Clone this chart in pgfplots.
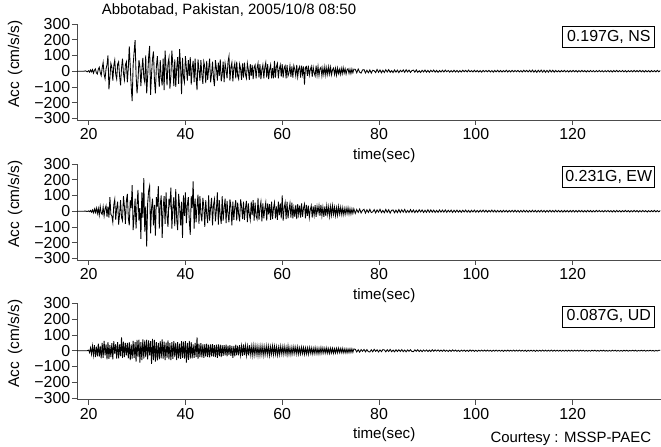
\documentclass[border=0pt]{standalone}
\usepackage{fontspec}
\setmainfont{Liberation Sans}
\usepackage{pgfplots}
\pgfplotsset{compat=1.18}
\usepackage{pgfplotstable}

% accelerations, cm/s/s
\pgfplotstableread{
t ns ew ud
17.6 0 0 0
19.0 0 0 0
19.4 2 1 0
19.7 -4 -2 0
20.0 3 2 4
20.2 -6 -3 -12
20.4 8 5 18
20.6 -4 -6 -22
20.8 10 8 30
21.0 -12 -10 -28
21.2 6 14 35
21.4 15 -8 -40
21.6 -10 20 25
21.8 -18 -15 -35
22.0 12 18 45
22.2 25 -25 -38
22.4 -8 30 30
22.6 -28 -12 -48
22.8 20 -20 50
23.0 55 28 -45
23.2 -20 -30 62
23.4 -48 15 -30
23.6 15 35 40
23.8 40 -35 -55
24.0 100 30 55
24.2 -115 -40 -52
24.4 -40 90 35
24.6 50 -20 -40
24.8 25 -30 48
25.0 -60 -70 -55
25.2 35 40 60
25.4 70 75 -20
25.6 -20 -55 42
25.8 -50 20 -50
26.0 45 60 55
26.2 60 -85 -48
26.4 -30 -20 40
26.6 -90 70 -35
26.8 20 -40 85
27.0 80 -60 -45
27.2 -15 95 58
27.4 -55 30 -40
27.6 40 -80 50
27.8 60 65 -30
28.0 -70 110 50
28.2 20 -40 -48
28.4 158 -90 55
28.6 30 70 -60
28.8 -100 20 40
29.0 -190 165 -50
29.2 40 -120 62
29.4 120 -30 -45
29.6 198 80 55
29.8 -20 -110 -70
30.0 -140 40 68
30.2 -60 135 -40
30.4 70 -60 70
30.6 30 20 -75
30.8 -95 -175 55
31.0 10 120 -60
31.2 85 -40 72
31.4 -40 210 -50
31.6 -70 -130 65
31.8 100 30 -40
32.0 -141 -225 70
32.2 -30 50 -55
32.4 90 130 65
32.6 160 160 -30
32.8 -150 -140 60
33.0 -20 20 -83
33.2 80 80 75
33.4 125 -90 -60
33.6 -60 40 68
33.8 -140 -155 -70
34.0 30 90 55
34.2 95 30 -62
34.4 -10 160 50
34.6 -100 -110 -55
34.8 70 40 60
35.0 -40 100 -48
35.2 -90 -170 72
35.4 80 20 -50
35.6 -120 95 58
35.8 130 -80 -60
36.0 20 120 52
36.2 -90 -30 -45
36.4 50 -100 65
36.6 85 80 -55
36.8 -110 40 48
37.0 -30 150 -60
37.2 130 -110 55
37.4 40 20 -52
37.6 -95 90 60
37.8 75 -95 -40
38.0 -100 140 50
38.2 20 -50 -60
38.4 90 -120 55
38.6 -80 110 -48
38.8 140 30 45
39.0 30 -90 -52
39.2 -145 60 60
39.4 85 -170 -45
39.6 -40 100 58
39.8 -70 -30 -50
40.0 95 120 60
40.2 20 -75 -75
40.4 -60 40 50
40.6 70 90 -58
40.8 -30 -60 62
41.0 90 -150 -50
41.2 -85 95 55
41.4 20 20 -48
41.6 65 190 40
41.8 -70 -110 -45
42.0 80 80 50
42.2 -40 -70 -40
42.4 -120 30 85
42.6 75 105 -52
42.8 10 -80 45
43.0 -60 95 -40
43.2 70 -20 48
43.4 -20 -65 -42
43.6 -80 85 40
43.8 60 30 -45
44.0 30 -100 42
44.2 -75 70 -38
44.4 65 -20 45
44.6 -55 -75 -40
44.8 15 100 38
45.0 80 -60 -42
45.2 -70 20 40
45.4 -20 85 -35
45.6 60 -90 42
45.8 -45 40 -38
46.0 -95 75 35
46.2 70 -65 -40
46.4 20 10 38
46.6 -60 120 -45
46.8 55 -85 40
47.0 -30 70 -35
47.2 75 -30 38
47.4 -65 -80 -40
47.6 -20 95 35
47.8 60 -60 -32
48.0 -70 20 35
48.2 50 80 -30
48.4 10 -75 38
48.6 -45 65 -35
48.8 60 -20 32
49.0 95 -70 -28
49.2 -60 75 35
49.4 25 30 -32
49.6 55 -90 30
49.8 -65 60 -45
50.0 20 -55 30
50.2 50 25 -35
50.4 -45 70 38
50.6 60 -60 -30
50.8 -30 55 32
51.0 -50 -20 -30
51.2 45 -65 35
51.4 15 75 -28
51.6 -55 30 30
51.8 50 -50 -32
52.0 -40 60 40
52.2 55 -55 -28
52.4 -20 20 32
52.6 -45 65 -30
52.8 50 -70 28
53.0 10 50 -30
53.2 -55 -20 35
53.4 45 -55 -25
53.6 -30 60 28
53.8 40 -25 -30
54.0 -50 70 32
54.2 25 -60 -28
54.4 40 55 30
54.6 -45 -30 -25
54.8 20 -50 28
55.0 50 85 -30
55.2 -40 -55 25
55.4 45 20 -28
55.6 -50 60 30
55.8 10 -65 -25
56.0 40 50 28
56.2 -45 -45 -30
56.4 25 15 25
56.6 55 55 -22
56.8 -40 -60 30
57.0 45 50 -25
57.2 -50 -20 28
57.4 10 45 -30
57.6 40 -55 25
57.8 -45 60 -22
58.0 20 -50 30
58.2 -45 20 -25
58.4 65 55 28
58.6 -40 -45 -22
58.8 30 30 25
59.0 50 -55 -28
59.2 -45 60 22
59.4 15 -25 -25
59.6 40 50 28
59.8 -35 -45 -20
60.0 45 100 25
60.2 -40 -60 -22
60.4 20 20 28
60.6 35 55 -20
60.8 -45 -50 22
61.0 40 60 -25
61.2 -30 -45 30
61.4 -10 10 -22
61.6 35 50 20
61.8 -35 -40 -24
62.0 30 55 22
62.2 -40 -45 -20
62.4 35 20 25
62.6 10 -35 -18
62.8 -30 40 22
63.0 40 -50 -20
63.2 -35 45 24
63.4 15 -20 -22
63.6 30 35 18
63.8 -40 -40 -20
64.0 35 50 22
64.2 -20 -35 -18
64.4 30 20 20
64.6 -85 45 -22
64.8 25 -45 18
65.0 30 40 -20
65.2 -30 -30 18
65.4 35 35 -22
65.6 -25 -40 20
65.8 10 10 -16
66.0 30 35 18
66.2 -35 -40 -20
66.4 25 30 16
66.6 -10 -25 -18
66.8 -30 38 20
67.0 35 -35 -18
67.2 -25 30 16
67.4 30 -10 -20
67.6 -28 35 15
67.8 15 -30 -18
68.0 25 40 20
68.2 -30 -28 -16
68.4 20 25 18
68.6 -22 -35 -15
68.8 28 30 16
69.0 -25 -30 -15
69.2 22 35 18
69.4 -20 -20 -16
69.6 28 28 14
69.8 -18 -32 -17
70.0 25 30 16
70.2 -22 -25 -14
70.4 10 35 15
70.6 20 -20 -16
70.8 -20 25 13
71.0 18 -28 -14
71.2 -25 22 15
71.4 20 -25 -13
71.6 -15 30 16
71.8 12 -18 -12
72.0 -20 25 14
72.2 18 -20 -12
72.4 -16 22 15
72.6 22 -22 -13
72.8 -12 18 12
73.0 15 -20 -13
73.2 -18 20 12
73.4 10 -15 -14
73.6 16 22 11
73.8 -14 -18 -12
74.0 12 16 12
74.2 -15 -18 -11
74.4 14 15 12
74.6 -10 -14 -10
74.8 13 15 11
75.1 12 -14 9
75.4 -10 11 -8
75.7 14 -8 6
76.0 -6 14 -9
76.3 -12 -11 7
76.6 8 5 -4
76.9 10 12 8
77.2 -11 -12 -7
77.5 6 9 7
77.8 -10 -8 -6
78.1 8 12 -8
78.4 -12 -9 6
78.7 6 -4 -7
79.0 3 10 9
79.3 -9 -11 -4
79.6 11 8 6
79.9 -7 -6 -8
80.2 8 12 5
80.5 -10 -9 -6
80.8 6 5 7
81.1 -8 -10 5
81.4 9 11 -7
81.7 -5 -7 6
82.0 10 9 -5
82.3 -7 -12 8
82.6 4 6 -6
82.9 -9 8 4
83.2 8 -10 -7
83.5 -6 7 6
83.8 7 -9 -5
84.1 -9 10 6
84.4 6 -8 -5
84.7 -4 9 7
85.0 8 -6 -6
85.3 -7 11 4
85.6 9 -9 -7
85.9 -5 5 5
86.2 7 -8 -4
86.5 -8 10 6
86.8 4 -7 -5
87.1 7 8 -6
87.4 -6 -9 5
87.7 8 6 -4
88.0 -7 -7 6
88.3 3 9 -5
88.6 -8 -5 4
88.9 6 8 -6
89.2 -5 -8 5
89.5 7 6 -4
89.8 -6 -7 5
90.1 5 9 -5
90.4 -7 -7 4
90.7 6 8 -5
91.0 -4 -6 6
91.3 7 7 -4
91.6 -6 -8 5
91.9 5 5 -3
92.2 -7 -7 5
92.5 4 8 -4
92.8 -5 -6 4
93.1 6 7 -4
93.4 -5 -6 5
93.7 7 8 -4
94.0 -4 -7 3
94.3 5 6 -5
94.6 -6 -5 4
94.9 4 7 -4
95.2 -5 -8 5
95.5 6 6 -3
95.8 -5 -6 4
96.1 5 7 -4
96.4 -6 -6 3
96.7 4 5 -5
97.0 -5 -7 4
97.3 6 6 -3
97.6 -4 -5 4
97.9 5 7 -4
98.2 -5 -6 3
98.5 7 5 -4
98.8 -4 -7 5
99.1 4 6 -3
99.4 -5 -5 4
99.7 6 7 -4
100.0 -4 -6 3
100.3 5 5 -4
100.6 -5 -6 3
100.9 4 6 -3
101.2 -6 -5 4
101.5 5 7 -3
101.8 -4 -5 4
102.1 5 6 -3
102.4 -4 -6 4
102.7 5 5 -3
103.0 -5 -5 3
103.3 4 7 -4
103.6 -6 -5 3
103.9 5 6 -3
104.2 -4 -6 4
104.5 6 5 -3
104.8 -5 -5 3
105.1 4 5 -3
105.4 -5 -6 3
105.7 4 6 -4
106.0 -4 -5 3
106.3 6 5 -3
106.6 -5 -6 4
106.9 4 5 -3
107.2 -5 -5 3
107.5 5 6 -3
107.8 -4 -5 4
108.1 5 6 -3
108.4 -4 -5 3
108.7 5 5 -3
109.0 -5 -6 4
109.3 4 5 -3
109.6 -5 -5 3
109.9 6 6 -3
110.2 -4 -5 3
110.5 5 5 -4
110.8 -5 -6 3
111.1 6 5 -3
111.4 -5 -5 3
111.7 7 6 -3
112.0 -6 -5 3
112.3 5 5 -4
112.6 -7 -6 3
112.9 6 5 -3
113.2 -5 -5 3
113.5 7 6 -3
113.8 -6 -5 4
114.1 6 5 -3
114.4 -7 -6 3
114.7 5 5 -3
115.0 -6 -5 3
115.3 7 6 -3
115.6 -5 -5 4
115.9 6 5 -3
116.2 -6 -5 3
116.5 5 6 -3
116.8 -5 -5 3
117.1 4 5 -3
117.4 -5 -5 3
117.7 5 5 -3
118.0 -4 -6 3
118.3 5 5 -3
118.6 -5 -5 3
118.9 4 5 -3
119.2 -5 -5 3
119.5 4 5 -3
119.8 -4 -5 3
120.1 5 5 -3
120.4 -4 -5 3
120.7 4 4 -2
121.0 -5 -5 3
121.3 4 5 -3
121.6 -4 -4 3
121.9 5 5 -2
122.2 -4 -5 3
122.5 4 4 -3
122.8 -5 -5 2
123.1 4 5 -3
123.4 -4 -4 2
123.7 5 5 -3
124.0 -4 -5 3
124.3 4 4 -2
124.6 -5 -5 3
124.9 4 5 -3
125.2 -4 -4 2
125.5 5 5 -3
125.8 -4 -4 3
126.1 4 4 -2
126.4 -5 -5 3
126.7 4 5 -3
127.0 -4 -4 2
127.3 5 5 -3
127.6 -4 -4 2
127.9 4 4 -3
128.2 -5 -5 3
128.5 4 4 -2
128.8 -4 -5 3
129.1 5 5 -3
129.4 -4 -4 2
129.7 4 4 -3
130.0 -4 -5 2
130.3 5 4 -3
130.6 -4 -4 3
130.9 4 5 -2
131.2 -5 -4 3
131.5 4 4 -3
131.8 -4 -5 2
132.1 4 4 -2
132.4 -4 -4 3
132.7 5 5 -2
133.0 -4 -4 3
133.3 4 4 -3
133.6 -4 -5 2
133.9 5 4 -2
134.2 -4 -4 3
134.5 4 5 -2
134.8 -5 -4 3
135.1 4 4 -3
135.4 -4 -5 2
135.7 4 4 -2
136.0 -5 -4 3
136.3 4 4 -2
136.6 -4 -4 2
136.9 4 5 -3
137.2 -4 -4 2
137.5 5 4 -2
137.8 -4 -4 3
138.1 4 4 2
}\accdata

\pgfplotsset{
  seis/.style={
    scale only axis, width=584bp, height=96bp,
    xmin=17.6, xmax=138.26, ymin=-310, ymax=300,
    axis x line=bottom, axis y line=left,
    axis line style={-, draw=black!70, line width=0.8bp},
    tick style={draw=black!70, line width=0.8bp},
    major tick length=5bp, tick align=outside,
    xtick={20,40,60,80,100,120}, xticklabels={20,40,60,80,100,120},
    ytick={-300,-200,-100,0,100,200,300},
    yticklabels={−300,−200,−100,0,100,200,300},
    tick label style={font=\fontsize{16}{18}\selectfont},
    yticklabel style={inner xsep=1.5bp},
    xlabel={time(sec)},
    xlabel style={at={(axis description cs:0.526,-0.37)}, anchor=center,
      font=\fontsize{15.2}{17}\selectfont},
    ylabel={Acc\hspace{7bp}(cm/s/s)},
    ylabel style={at={(axis description cs:-0.106,0.583)}, anchor=center,
      font=\fontsize{15.5}{17}\selectfont},
  },
  trace/.style={black, line width=0.85bp},
}
\tikzset{
  gbox/.style={draw=black, line width=0.8bp, inner sep=2bp,
    minimum width=92bp, minimum height=21bp, anchor=north east,
    font=\fontsize{16}{18}\selectfont},
}

\begin{document}
\begin{tikzpicture}
\useasboundingbox (0,0) rectangle (661bp,447bp);

\begin{axis}[seis, at={(77bp,327bp)}, anchor=south west,
  title={Abbotabad, Pakistan, 2005/10/8 08:50},
  title style={at={(axis description cs:0.0366,1)}, anchor=base west,
    yshift=4bp, font=\fontsize{15}{17}\selectfont}]
  \addplot[trace] table[x=t, y=ns] {\accdata};
  \node[gbox] at (rel axis cs:0.99,0.979) {0.197G, NS};
\end{axis}

\begin{axis}[seis, at={(77bp,187bp)}, anchor=south west]
  \addplot[trace] table[x=t, y=ew] {\accdata};
  \node[gbox] at (rel axis cs:0.99,0.979) {0.231G, EW};
\end{axis}

\begin{axis}[seis, at={(77bp,47.5bp)}, anchor=south west]
  \addplot[trace] table[x=t, y=ud] {\accdata};
  \node[gbox] at (rel axis cs:0.99,0.979) {0.087G, UD};
\end{axis}

\node[anchor=base east, font=\fontsize{15}{17}\selectfont]
  at (654.6bp,5bp) {Courtesy : MSSP-PAEC};
\end{tikzpicture}
\end{document}
